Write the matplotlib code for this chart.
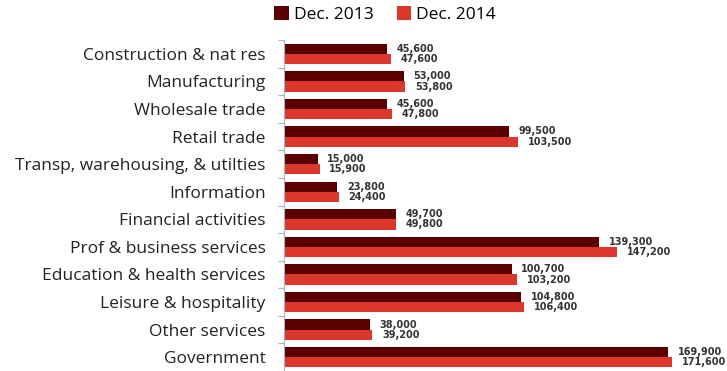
import numpy as np
import matplotlib
matplotlib.use("Agg")
import matplotlib.pyplot as plt
from matplotlib.ticker import FixedLocator

# Employment by industry, December 2013 vs December 2014
categories = ["Construction & nat res", "Manufacturing", "Wholesale trade",
              "Retail trade", "Transp, warehousing, & utilties", "Information",
              "Financial activities", "Prof & business services",
              "Education & health services", "Leisure & hospitality",
              "Other services", "Government"]
dec_2013 = [45600, 53000, 45600, 99500, 15000, 23800,
            49700, 139300, 100700, 104800, 38000, 169900]
dec_2014 = [47600, 53800, 47800, 103500, 15900, 24400,
            49800, 147200, 103200, 106400, 39200, 171600]

c13 = "#5a0000"
c14 = "#dc372c"

fig = plt.figure(figsize=(7.27, 3.71), dpi=100)
ax = fig.add_axes([0.390, 0.0, 0.595, 0.892])

y = np.arange(len(categories))
h = 0.37
b13 = ax.barh(y - h / 2, dec_2013, height=h, color=c13, label="Dec. 2013")
b14 = ax.barh(y + h / 2, dec_2014, height=h, color=c14, label="Dec. 2014")

for bars, vals in ((b13, dec_2013), (b14, dec_2014)):
    for bar, v in zip(bars, vals):
        ax.annotate(f"{v:,}", (v, bar.get_y() + bar.get_height() / 2),
                    xytext=(7, 0), textcoords="offset points",
                    va="center", ha="left", fontsize=7, fontweight="bold",
                    color="#333333", family="DejaVu Sans")

ax.set_xlim(0, 191000)
ax.set_ylim(len(categories) - 0.5, -0.5)

ax.set_yticks(y)
ax.set_yticklabels(categories, fontsize=12.5, family="Open Sans", color="#222222")
ax.tick_params(axis="y", which="major", length=0, pad=13)
ax.yaxis.set_minor_locator(FixedLocator(np.arange(-0.5, len(categories), 1)))
ax.tick_params(axis="y", which="minor", length=4, color="#aab4c0", width=0.8)
ax.set_xticks([])

for side in ("top", "right", "bottom"):
    ax.spines[side].set_visible(False)
ax.spines["left"].set_color("#aab4c0")
ax.spines["left"].set_linewidth(0.8)

fig.legend(handles=[b13, b14], loc="upper left", bbox_to_anchor=(0.356, 1.025),
           ncol=2, frameon=False, prop={"family": "Open Sans", "size": 12.5},
           handlelength=0.85, handleheight=0.85, handletextpad=0.25, columnspacing=1.35)

fig.savefig("out.png", dpi=100)
